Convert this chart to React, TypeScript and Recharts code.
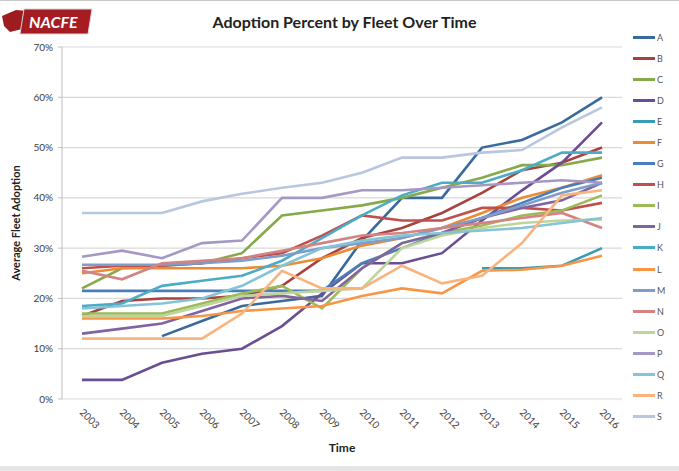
import { LineChart, Line, XAxis, YAxis, CartesianGrid } from 'recharts'

const years = ['2003', '2004', '2005', '2006', '2007', '2008', '2009', '2010', '2011', '2012', '2013', '2014', '2015', '2016']
const fleets = ['A', 'B', 'C', 'D', 'E', 'F', 'G', 'H', 'I', 'J', 'K', 'L', 'M', 'N', 'O', 'P', 'Q', 'R', 'S']
const colors = [
  '#3a6a9c', '#a8423f', '#86a94a', '#6a4e94', '#3a9bb3', '#eb8b34', '#4a7ebb', '#c0504d', '#9bbb59', '#8064a2',
  '#4bacc6', '#f79646', '#7f9dcb', '#d38482', '#bfd49b', '#a598c4', '#85c3d6', '#f9b37e', '#b8c7df',
]

const A = [null, null, 12.5, 15.5, 18.5, 19.5, 20.5, 31.5, 40, 40, 50, 51.5, 55, 60]
const B = [16.5, 19.5, 20, 20, 20.5, 22.5, 28, 32, 34, 37, 41, 45.5, 47, 50]
const C = [22, 26, 26.5, 27, 29, 36.5, 37.5, 38.5, 40, 42, 44, 46.5, 46.5, 48]
const D = [3.8, 3.8, 7.2, 9, 10, 14.5, 21, 27, 27, 29, 35.5, 41.5, 47, 55]
const E = [null, null, null, null, null, null, null, null, null, null, 26, 26, 26.5, 30]
const F = [25, 26, 26, 26, 26, 26.5, 28, 30.5, 32, 34, 37, 40, 42, 44.5]
const G = [21.5, 21.5, 21.5, 21.5, 21.5, 21.5, 21.5, 27, 30, 33, 36, 39, 42, 44]
const H = [26, 26.5, 26.5, 27, 28, 29, 32.5, 36.5, 35.5, 35.5, 38, 38, 37.5, 39]
const I = [17, 17, 17, 19, 21, 22.5, 18, 26, 31, 33, 34.5, 36.5, 37.5, 40.5]
const J = [13, 14, 15, 17.5, 20, 20.5, 19.5, 26, 31, 33, 36, 38, 39.5, 43]
const K = [18.5, 19, 22.5, 23.5, 24.5, 27.5, 32, 36.5, 40.5, 43, 43, 45.5, 49, 49]
const L = [16, 16, 16, 16.5, 17.5, 18, 18.5, 20.5, 22, 21, 25.5, 25.7, 26.5, 28.5]
const M = [26.7, 26.7, 26.7, 27, 27.5, 28.5, 30, 31, 32, 34, 36, 38.5, 41, 43]
const N = [25.5, 23.8, 27, 27.5, 28, 29.5, 31, 32.5, 33, 34, 35, 36, 37, 34]
const O = [16.5, 16.5, 16.5, 18.5, 20.5, 21, 21.5, 22, 30, 32.5, 34, 35, 35.5, 35.7]
const P = [28.3, 29.5, 28, 31, 31.5, 40, 40, 41.5, 41.5, 42, 42.5, 43, 43.5, 43]
const Q = [18, 18.5, 19, 20, 22.5, 26.5, 30, 31.5, 32.5, 33, 33.5, 34, 35, 36]
const R = [12, 12, 12, 12, 17, 25.5, 22, 22, 26.5, 23, 24.5, 31, 40.5, 41.5]
const S = [37, 37, 37, 39.3, 40.8, 42, 43, 45, 48, 48, 49, 49.5, 54, 58]

const seriesValues = [A, B, C, D, E, F, G, H, I, J, K, L, M, N, O, P, Q, R, S]
const yTicks = [0, 10, 20, 30, 40, 50, 60, 70]
const edgeTicks = years.map((_, i) => i).concat([years.length])

const data = years.map((year, i) => {
  const row: Record<string, string | number | null> = { year }
  fleets.forEach((f, k) => { row[f] = seriesValues[k][i] })
  return row
})

const font = 'Lato, "Open Sans", sans-serif'

function YearTick({ x, y, payload }: any) {
  return (
    <text
      x={x - 3}
      y={y + 6}
      transform={`rotate(45 ${x - 3} ${y + 6})`}
      fontSize={10}
      fill="#404040"
      fontFamily={font}
      textAnchor="start"
    >
      {payload.value}
    </text>
  )
}

function Logo() {
  return (
    <svg width={92} height={28} style={{ position: 'absolute', left: 2, top: 7 }}>
      <polygon points="0,8 14,2 26,3 24,20 8,24 2,18" fill="#9c1c20" />
      <polygon points="22,1 90,1 86,26 18,26" fill="#a51d22" stroke="#d8d8d8" strokeWidth={1} />
      <text x={27} y={20} fill="#fff" fontSize={16} fontWeight={700} fontStyle="italic" fontFamily={font}>
        NACFE
      </text>
    </svg>
  )
}

export default function App() {
  return (
    <div style={{ position: 'absolute', left: 0, top: 0, width: 679, height: 471, background: '#fff', fontFamily: font, borderTop: '1px solid #c8c8c8', boxSizing: 'border-box' }}>
      <Logo />
      <div style={{ position: 'absolute', left: 0, width: 679, top: 11, textAlign: 'center', fontSize: 16, fontWeight: 700, color: '#222' }}>
        <span style={{ marginLeft: 10 }}>Adoption Percent by Fleet Over Time</span>
      </div>
      <LineChart width={679} height={470} data={data} margin={{ top: 46, right: 57, bottom: 0, left: 0 }}>
        <CartesianGrid xAxisId="cat" vertical={false} stroke="#d9d9d9" strokeWidth={1.2} />
        <XAxis
          xAxisId="edge"
          type="number"
          domain={[0, years.length]}
          ticks={edgeTicks}
          tick={false}
          tickSize={4}
          height={0}
          stroke="#bfbfbf"
        />
        <XAxis
          xAxisId="cat"
          dataKey="year"
          axisLine={false}
          tickLine={false}
          padding={{ left: 20, right: 20 }}
          interval={0}
          height={72}
          tick={<YearTick />}
          label={{ value: 'Time', position: 'insideBottom', offset: 19, fontSize: 12, fontWeight: 700, fill: '#222', fontFamily: font }}
        />
        <YAxis
          domain={[0, 70]}
          ticks={yTicks}
          width={62}
          tickSize={4}
          tickMargin={5}
          stroke="#bfbfbf"
          tick={{ fontSize: 10, fill: '#404040', fontFamily: font }}
          tickFormatter={v => `${v}%`}
          label={{ value: 'Average Fleet Adoption', angle: -90, position: 'insideLeft', offset: 16, fontSize: 11, fontWeight: 700, fill: '#222', fontFamily: font, style: { textAnchor: 'middle' } }}
        />
        {fleets.map((f, k) => (
          <Line
            key={f}
            xAxisId="cat"
            type="linear"
            dataKey={f}
            stroke={colors[k]}
            strokeWidth={2.6}
            dot={false}
            isAnimationActive={false}
          />
        ))}
      </LineChart>
      {/* legend, one row per fleet */}
      <div style={{ position: 'absolute', left: 633, top: 26 }}>
        {fleets.map((f, k) => (
          <div key={f} style={{ display: 'flex', alignItems: 'center', height: 21.06 }}>
            <div style={{ width: 22, height: 3, background: colors[k] }} />
            <span style={{ fontSize: 9, color: '#555', marginLeft: 2 }}>{f}</span>
          </div>
        ))}
      </div>
      <div style={{ position: 'absolute', left: 0, bottom: 0, width: 679, height: 5, background: '#e6e6e6' }} />
    </div>
  )
}
